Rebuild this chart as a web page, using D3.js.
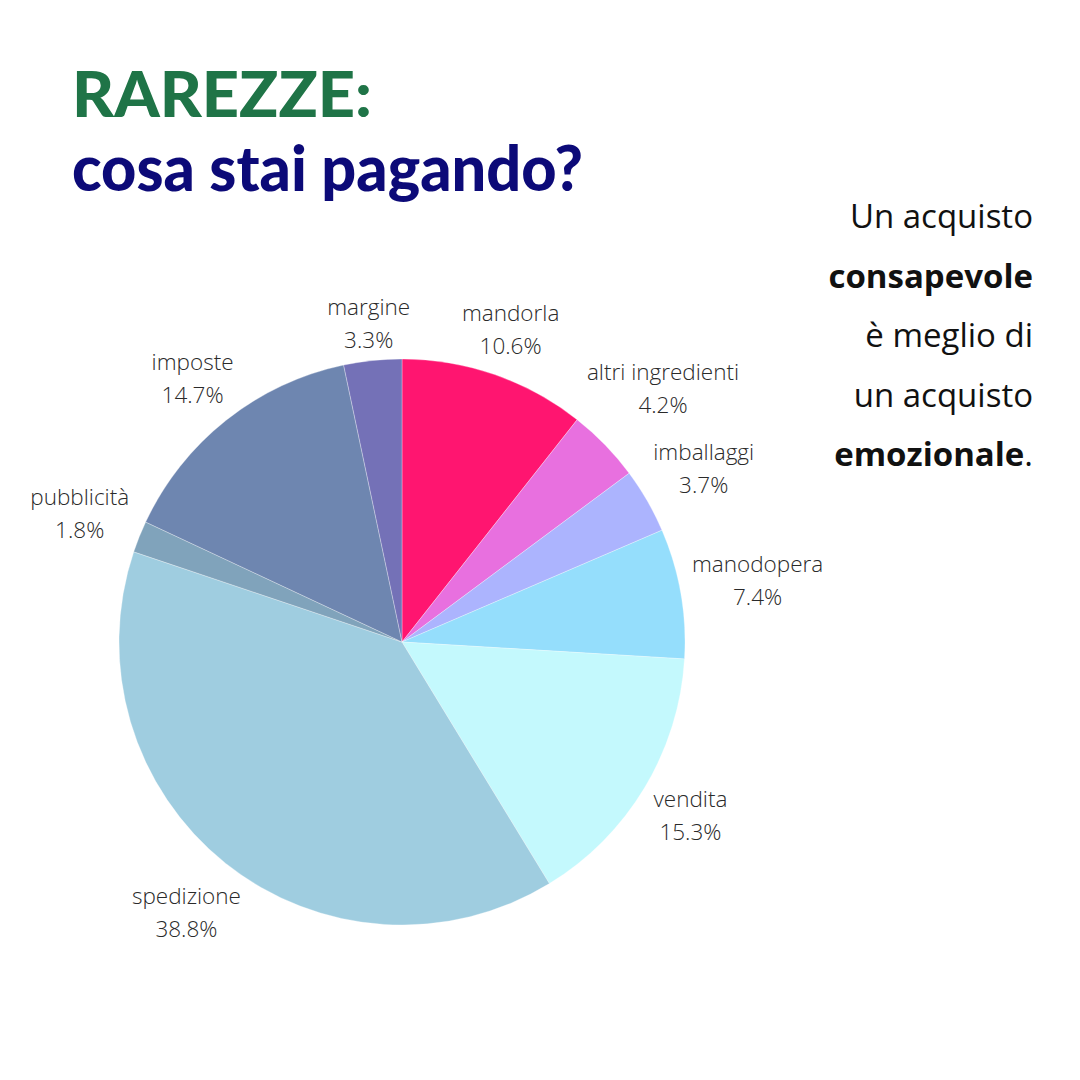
<!DOCTYPE html>
<html><head><meta charset="utf-8">
<script src="https://cdn.jsdelivr.net/npm/d3@7"></script>
<style>
html,body{margin:0;padding:0;background:#fff;}
svg{display:block;}
</style></head>
<body>
<svg id="chart" width="1080" height="1080"></svg>
<script>
const categories = ["mandorla","altri ingredienti","imballaggi","manodopera","vendita","spedizione","pubblicità","imposte","margine"];
const values = [10.6, 4.2, 3.7, 7.4, 15.3, 38.8, 1.8, 14.7, 3.3];
const colors = ["#FF1570","#E870DF","#ACB4FE","#95DEFC","#C4F9FD","#9FCDE0","#80A3BB","#6E86B0","#7471B7"];
const titleLine1 = "RAREZZE:";
const titleLine2 = "cosa stai pagando?";
const sideLines = [
  [{t:"Un acquisto", b:false}],
  [{t:"consapevole", b:true}],
  [{t:"è meglio di", b:false}],
  [{t:"un acquisto", b:false}],
  [{t:"emozionale", b:true},{t:".", b:false}]
];

const svg = d3.select("#chart");
const cx = 402, cy = 642, r = 283;

// Title
svg.append("text").attr("x",72).attr("y",117)
  .attr("font-family","Lato, 'Noto Sans', sans-serif").attr("font-weight",900)
  .attr("font-size",62).attr("fill","#1F7447")
  .attr("textLength",300).attr("lengthAdjust","spacingAndGlyphs")
  .text(titleLine1);
svg.append("text").attr("x",72).attr("y",191)
  .attr("font-family","Lato, 'Noto Sans', sans-serif").attr("font-weight",900)
  .attr("font-size",62).attr("fill","#0C0A78")
  .attr("textLength",511).attr("lengthAdjust","spacingAndGlyphs")
  .text(titleLine2);

// Side text
const side = svg.append("g");
sideLines.forEach((parts,i)=>{
  const t = side.append("text").attr("x",1033).attr("y",228+i*59.5)
    .attr("text-anchor","end").attr("font-family","'Open Sans', sans-serif")
    .attr("font-size",33).attr("fill","#111");
  parts.forEach(p=>{
    t.append("tspan").attr("font-weight",p.b?700:400).text(p.t);
  });
});

// Pie
const data = categories.map((c,i)=>({name:c, value:values[i], color:colors[i]}));
const pie = d3.pie().value(d=>d.value).sort(null);
const arc = d3.arc().innerRadius(0).outerRadius(r);
const arcs = pie(data);
const g = svg.append("g").attr("transform",`translate(${cx},${cy})`);
g.selectAll("path").data(arcs).join("path")
  .attr("d",arc).attr("fill",d=>d.data.color)
  .attr("stroke","#ffffff").attr("stroke-width",0.6).attr("stroke-opacity",0.5);

// Labels
const fmt = d3.format(".1f");
const lg = g.append("g");
arcs.forEach(a=>{
  const mid = (a.startAngle+a.endAngle)/2;
  const t = lg.append("text").attr("text-anchor","middle")
    .attr("font-family","'Open Sans', sans-serif").attr("font-weight",300)
    .attr("font-size",22.5).attr("fill","#2a2a2a");
  t.append("tspan").attr("x",0).attr("y",-8).text(a.data.name);
  t.append("tspan").attr("x",0).attr("y",25).text(fmt(a.data.value)+"%");
  const bb = t.node().getBBox();
  const hw = bb.width/2, hh = 25;
  const s = Math.sin(mid), c = -Math.cos(mid);
  const dist = 292 + hw*Math.abs(s) + hh*Math.abs(c);
  t.attr("transform",`translate(${s*dist},${c*dist})`);
});
</script>
</body></html>
